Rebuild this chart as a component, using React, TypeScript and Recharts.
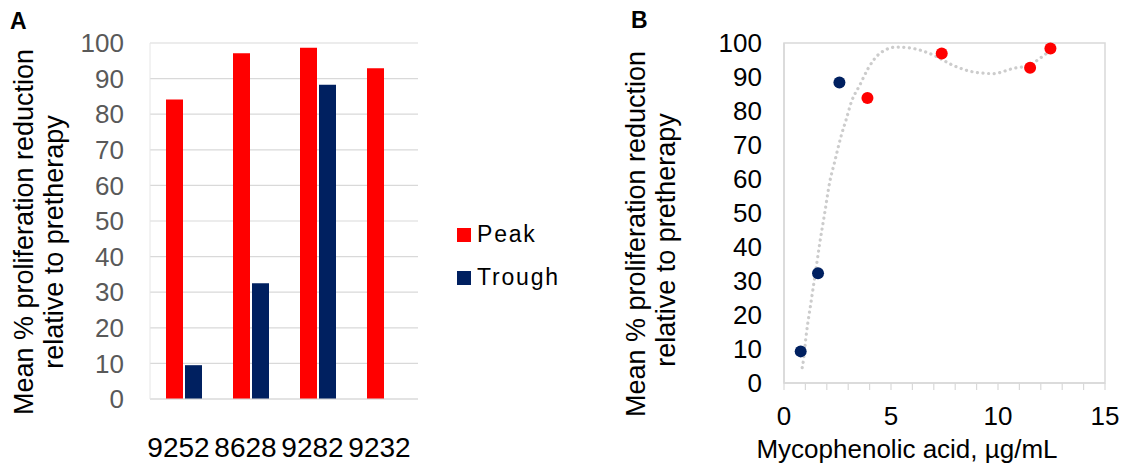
import React from 'react';
import {
  BarChart,
  Bar,
  XAxis,
  YAxis,
  CartesianGrid,
  Legend,
  ComposedChart,
  Scatter,
  Line,
  ReferenceArea,
} from 'recharts';

// ---------- data ----------
const patients = ['9252', '8628', '9282', '9232'];
const peakValues = [84.1, 97.1, 98.7, 92.9];
const troughValues: (number | null)[] = [9.5, 32.5, 88.3, null];
const barYTicks = [0, 10, 20, 30, 40, 50, 60, 70, 80, 90, 100];

const peakMPA = [3.9, 7.37, 11.5, 12.45];
const peakReduction = [83.8, 96.9, 92.7, 98.4];
const troughMPA = [0.78, 1.59, 2.59];
const troughReduction = [9.3, 32.3, 88.4];

const trendMPA = [0.85, 0.89, 1.05, 1.28, 1.51, 1.67, 1.9, 2.14, 2.37, 2.68, 2.92, 3.15, 3.54, 3.93, 4.47, 5.25, 6.03, 6.81, 8.06, 8.83, 9.77, 10.7, 11.48, 12.26, 12.65];
const trendReduction = [4.5, 5.9, 14.7, 24.5, 34.2, 41.1, 49.9, 59.2, 65.1, 72.9, 77.8, 82.7, 87.6, 92.5, 96.9, 98.8, 98.4, 96.9, 93.0, 91.5, 91.0, 92.5, 93.6, 96.9, 98.8];

const scatterXTicks = [0, 1, 2, 3, 4, 5, 6, 7, 8, 9, 10, 11, 12, 13, 14, 15];
const scatterYTicks = [0, 10, 20, 30, 40, 50, 60, 70, 80, 90, 100];

// ---------- styles ----------
const FONT = '"Liberation Sans", Arial, Helvetica, sans-serif';
const RED = '#FF0000';
const NAVY = '#002060';
const GRID = '#d9d9d9';

const barData = patients.map((p, i) => ({
  patient: p,
  Peak: peakValues[i],
  Trough: troughValues[i],
}));

const peakPoints = peakMPA.map((x, i) => ({ x, y: peakReduction[i] }));
const troughPoints = troughMPA.map((x, i) => ({ x, y: troughReduction[i] }));
const trendPoints = trendMPA.map((x, i) => ({ x, y: trendReduction[i] }));

const TitleLeft = () => (
  <g fontFamily={FONT} fill="#000">
    <text x={10} y={29} fontSize={23} fontWeight="bold">A</text>
    <text transform="translate(33,232) rotate(-90)" textAnchor="middle" fontSize={27}>
      Mean % proliferation reduction
    </text>
    <text transform="translate(63,242) rotate(-90)" textAnchor="middle" fontSize={27}>
      relative to pretherapy
    </text>
  </g>
);

const TitleRight = () => (
  <g fontFamily={FONT} fill="#000">
    <text x={31} y={28} fontSize={23} fontWeight="bold">B</text>
    <text transform="translate(45,234) rotate(-90)" textAnchor="middle" fontSize={27}>
      Mean % proliferation reduction
    </text>
    <text transform="translate(75,240) rotate(-90)" textAnchor="middle" fontSize={27}>
      relative to pretherapy
    </text>
  </g>
);

const XTitleRight = () => (
  <text x={307} y={458} textAnchor="middle" fontSize={26} fontFamily={FONT} fill="#000">
    Mycophenolic acid, µg/mL
  </text>
);

const renderLegend = (props: any) => {
  const { payload } = props;
  return (
    <div style={{ fontFamily: FONT, fontSize: 23, letterSpacing: 1.8, color: '#000' }}>
      {(payload || []).map((entry: any) => (
        <div key={entry.value} style={{ display: 'flex', alignItems: 'center', height: 43 }}>
          <span
            style={{
              display: 'inline-block',
              width: 14,
              height: 14,
              background: entry.color,
              marginRight: 6,
            }}
          />
          <span>{entry.value}</span>
        </div>
      ))}
    </div>
  );
};

export default function App() {
  return (
    <div
      style={{
        position: 'absolute',
        left: 0,
        top: 0,
        width: 1128,
        height: 467,
        background: '#fff',
        overflow: 'hidden',
      }}
    >
      <div style={{ position: 'absolute', left: 0, top: 0 }}>
        <BarChart
          width={600}
          height={467}
          data={barData}
          margin={{ top: 43, right: 182, bottom: 0, left: 0 }}
          barSize={17}
          barGap={2}
        >
          <CartesianGrid vertical={false} stroke={GRID} strokeWidth={1.2} />
          <XAxis
            dataKey="patient"
            height={68}
            axisLine={{ stroke: GRID, strokeWidth: 1.2 }}
            tickLine={false}
            tickMargin={32}
            tick={{ fontSize: 28, fontFamily: FONT, fill: '#000', dx: -5 }}
            interval={0}
          />
          <YAxis
            width={150}
            domain={[0, 100]}
            ticks={barYTicks}
            axisLine={{ stroke: '#e6e6e6' }}
            tickLine={false}
            tickMargin={20}
            tick={{ fontSize: 26, fontFamily: FONT, fill: '#595959' }}
            label={{ content: () => <TitleLeft /> }}
          />
          <Legend
            layout="vertical"
            align="center"
            verticalAlign="middle"
            content={renderLegend}
            wrapperStyle={{ left: 457, top: 213, width: 'auto' }}
          />
          <Bar dataKey="Peak" fill={RED} isAnimationActive={false} />
          <Bar dataKey="Trough" fill={NAVY} isAnimationActive={false} />
        </BarChart>
      </div>

      <div style={{ position: 'absolute', left: 600, top: 0 }}>
        <ComposedChart
          width={528}
          height={467}
          margin={{ top: 43, right: 23, bottom: 0, left: 0 }}
        >
          <XAxis
            type="number"
            dataKey="x"
            domain={[0, 15]}
            ticks={scatterXTicks}
            interval={0}
            height={84}
            axisLine={{ stroke: GRID, strokeWidth: 1.5 }}
            tickLine={{ stroke: GRID, strokeWidth: 1.2 }}
            tickSize={7}
            tickMargin={17}
            tickFormatter={(v: number) => (v % 5 === 0 ? String(v) : '')}
            tick={{ fontSize: 26, fontFamily: FONT, fill: '#000' }}
            label={{ content: () => <XTitleRight /> }}
          />
          <YAxis
            type="number"
            dataKey="y"
            width={184}
            domain={[0, 100]}
            ticks={scatterYTicks}
            interval={0}
            axisLine={{ stroke: GRID, strokeWidth: 1.5 }}
            tickLine={false}
            tickMargin={16}
            tick={{ fontSize: 26, fontFamily: FONT, fill: '#000' }}
            label={{ content: () => <TitleRight /> }}
          />
          <ReferenceArea
            x1={0}
            x2={15}
            y1={0}
            y2={100}
            fill="none"
            fillOpacity={0}
            stroke={GRID}
            strokeWidth={1.5}
            ifOverflow="visible"
          />
          <Line
            data={trendPoints}
            dataKey="y"
            type="monotone"
            stroke="#cccccc"
            strokeWidth={3.2}
            strokeDasharray="0.1 5.5"
            strokeLinecap="round"
            dot={false}
            activeDot={false}
            isAnimationActive={false}
          />
          <Scatter
            name="Trough"
            data={troughPoints}
            dataKey="y"
            fill={NAVY}
            shape={(p: any) => <circle cx={p.cx} cy={p.cy} r={6} fill={NAVY} />}
            isAnimationActive={false}
          />
          <Scatter
            name="Peak"
            data={peakPoints}
            dataKey="y"
            fill={RED}
            shape={(p: any) => <circle cx={p.cx} cy={p.cy} r={6} fill={RED} />}
            isAnimationActive={false}
          />
        </ComposedChart>
      </div>
    </div>
  );
}
